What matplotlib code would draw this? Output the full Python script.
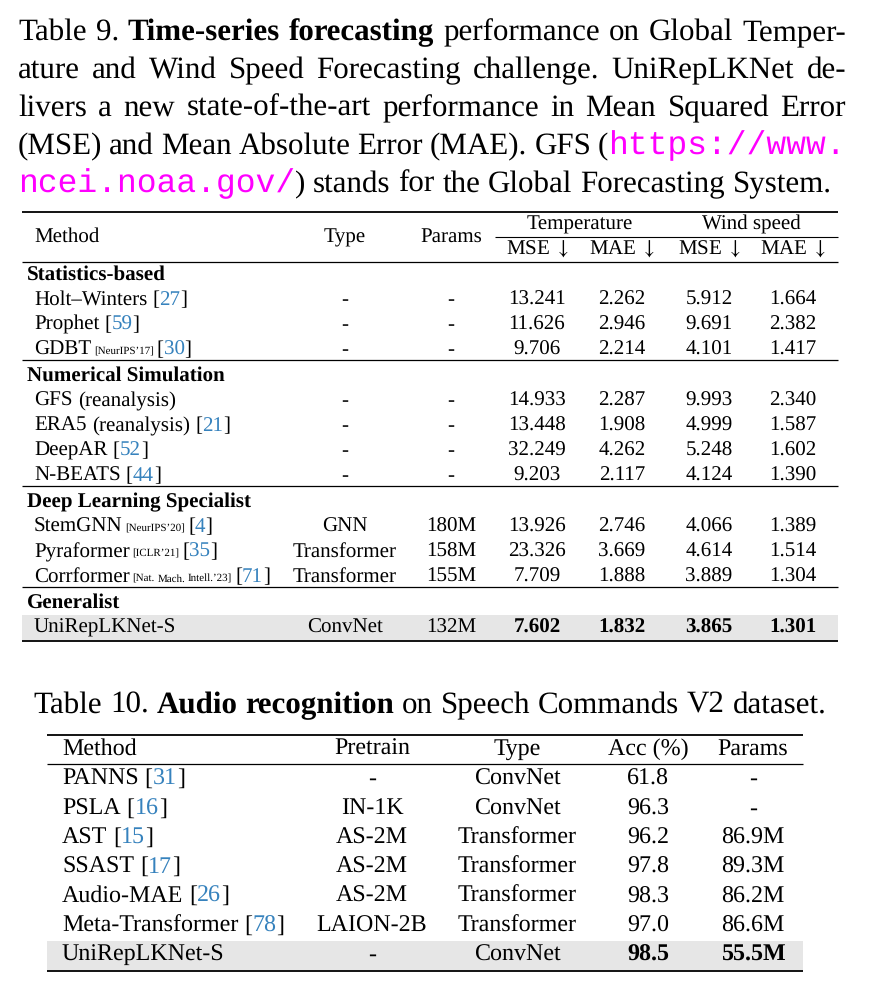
import matplotlib
matplotlib.use("Agg")
from matplotlib import pyplot as plt
from matplotlib.patches import Rectangle

plt.rcParams["mathtext.fontset"] = "stix"
plt.rcParams["text.hinting"] = "no_hinting"
plt.rcParams["text.hinting_factor"] = 1

# ---- data ----
caption9 = [
    [("Table 9. ", "n"), ("Time-series forecasting", "b"), (" performance on Global Temper-", "n")],
    [("ature and Wind Speed Forecasting challenge.  UniRepLKNet de-", "n")],
    [("livers a new state-of-the-art performance in Mean Squared Error", "n")],
    [("(MSE) and Mean Absolute Error (MAE). GFS (", "n"), ("https://www.", "url")],
    [("ncei.noaa.gov/", "url"), (") stands for the Global Forecasting System.", "n")],
]
caption10 = [("Table 10. ", "n"), ("Audio recognition", "b"), (" on Speech Commands V2 dataset.", "n")]

groups9 = ["Statistics-based", "Numerical Simulation", "Deep Learning Specialist", "Generalist"]
group_sizes9 = [3, 4, 3, 1]
methods9 = ["Holt–Winters", "Prophet", "GDBT", "GFS (reanalysis)", "ERA5 (reanalysis)",
            "DeepAR", "N-BEATS", "StemGNN", "Pyraformer", "Corrformer", "UniRepLKNet-S"]
venues9 = ["", "", "[NeurIPS’17]", "", "", "", "", "[NeurIPS’20]", "[ICLR’21]",
           "[Nat. Mach. Intell.’23]", ""]
cites9 = ["27", "59", "30", "", "21", "52", "44", "4", "35", "71", ""]
types9 = ["-", "-", "-", "-", "-", "-", "-", "GNN", "Transformer", "Transformer", "ConvNet"]
params9 = ["-", "-", "-", "-", "-", "-", "-", "180M", "158M", "155M", "132M"]
temp_mse = ["13.241", "11.626", "9.706", "14.933", "13.448", "32.249", "9.203",
            "13.926", "23.326", "7.709", "7.602"]
temp_mae = ["2.262", "2.946", "2.214", "2.287", "1.908", "4.262", "2.117",
            "2.746", "3.669", "1.888", "1.832"]
wind_mse = ["5.912", "9.691", "4.101", "9.993", "4.999", "5.248", "4.124",
            "4.066", "4.614", "3.889", "3.865"]
wind_mae = ["1.664", "2.382", "1.417", "2.340", "1.587", "1.602", "1.390",
            "1.389", "1.514", "1.304", "1.301"]

methods10 = ["PANNS", "PSLA", "AST", "SSAST", "Audio-MAE", "Meta-Transformer", "UniRepLKNet-S"]
cites10 = ["31", "16", "15", "17", "26", "78", ""]
pretrain10 = ["-", "IN-1K", "AS-2M", "AS-2M", "AS-2M", "LAION-2B", "-"]
types10 = ["ConvNet", "ConvNet", "Transformer", "Transformer", "Transformer", "Transformer", "ConvNet"]
acc10 = ["61.8", "96.3", "96.2", "97.8", "98.3", "97.0", "98.5"]
params10 = ["-", "-", "86.9M", "89.3M", "86.2M", "86.6M", "55.5M"]

# ---- styling ----
SERIF = ["Liberation Serif", "DejaVu Serif"]
MONO = ["Liberation Mono", "DejaVu Sans Mono"]
CITE = "#3682BD"
URL = "#FF00FF"
GRAY = "#e6e6e6"
CAP_FS = 22.3
T9_FS = 14.9
T10_FS = 17.2

fig = plt.figure(figsize=(8.7, 9.9), dpi=100)
ax = fig.add_axes([0, 0, 1, 1])
ax.set_xlim(0, 870)
ax.set_ylim(990, 0)
ax.axis("off")
renderer = fig.canvas.get_renderer()


def style(kind, fs):
    if kind == "b":
        return dict(family=SERIF, fontsize=fs, fontweight="bold", color="black")
    if kind == "url":
        return dict(family=MONO, fontsize=fs * 1.05, color=URL)
    if kind == "cite":
        return dict(family=SERIF, fontsize=fs, color=CITE)
    if kind == "small":
        return dict(family=SERIF, fontsize=fs * 0.55, color="black")
    return dict(family=SERIF, fontsize=fs, color="black")


def adv(txt, kind, fs):
    # advance width, measured between two bar glyphs
    kw = style(kind, fs)
    out = []
    for s in ("|" + txt + "|", "||"):
        t = ax.text(0, 0, s, **kw)
        out.append(t.get_window_extent(renderer).width)
        t.remove()
    return out[0] - out[1]


def to_words(pieces):
    words = [[]]
    for txt, kind in pieces:
        parts = txt.split(" ")
        for i, p in enumerate(parts):
            if i > 0:
                words.append([])
            if p:
                words[-1].append((p, kind))
    return [w for w in words if w]


def draw_line(x0, y, pieces, fs, right=None, ha="left"):
    words = to_words(pieces)
    wws = [sum(adv(p, k, fs) for p, k in w) for w in words]
    gaps = [min(adv(" ", words[i][-1][1], fs), adv(" ", words[i + 1][0][1], fs))
            for i in range(len(words) - 1)]
    total = sum(wws)
    if right is not None and len(words) > 1:
        g = (right - x0 - total) / (len(words) - 1)
        gaps = [g] * len(gaps)
    full = total + sum(gaps)
    x = x0 - full / 2 if ha == "center" else x0
    for i, w in enumerate(words):
        for p, k in w:
            ax.text(x, y, p, va="baseline", ha="left", **style(k, fs))
            x += adv(p, k, fs)
        if i < len(gaps):
            x += gaps[i]


def rule(x0, x1, y, lw):
    ax.plot([x0, x1], [y, y], color="black", lw=lw, solid_capstyle="butt")


def cell(x, y, txt, fs, bold=False):
    ax.text(x, y, txt, ha="center", va="baseline", family=SERIF, fontsize=fs,
            fontweight="bold" if bold else "normal")


# ---- caption of table 9 ----
cap_base = [40, 78, 116, 154, 192]
for i, line in enumerate(caption9):
    right = 846 if i < len(caption9) - 1 else None
    draw_line(18, cap_base[i], line, CAP_FS, right=right)

# ---- table 9 ----
L9, R9 = 22, 838
col_type, col_par = 345, 451
col_num = [537, 622, 709, 793]
rule(L9, R9, 212, 1.3)
ax.text(34, 242, "Method", va="baseline", family=SERIF, fontsize=T9_FS)
cell(col_type, 242, "Type", T9_FS)
cell(col_par, 242, "Params", T9_FS)
cell((col_num[0] + col_num[1]) / 2, 230, "Temperature", T9_FS)
cell((col_num[2] + col_num[3]) / 2, 230, "Wind speed", T9_FS)
rule(495, R9, 237, 0.8)
for c, h in zip(col_num, ["MSE", "MAE", "MSE", "MAE"]):
    cell(c, 255, h + r" $\downarrow$", T9_FS)
rule(L9, R9, 262, 0.9)

y = 280
r = 0
for g, (gname, gsize) in enumerate(zip(groups9, group_sizes9)):
    if g > 0:
        rule(L9, R9, y - 21, 0.9)
    ax.text(27, y, gname, va="baseline", family=SERIF, fontsize=T9_FS, fontweight="bold")
    for k in range(gsize):
        y += 25
        last = r == len(methods9) - 1
        if last:
            ax.add_patch(Rectangle((L9, y - 18), R9 - L9, 25, color=GRAY, lw=0, zorder=0))
        pieces = [(methods9[r], "n")]
        if venues9[r]:
            pieces.append((" " + venues9[r], "small"))
        if cites9[r]:
            pieces += [(" [", "n"), (cites9[r], "cite"), ("]", "n")]
        draw_line(34, y, pieces, T9_FS)
        cell(col_type, y, types9[r], T9_FS)
        cell(col_par, y, params9[r], T9_FS)
        for c, v in zip(col_num, [temp_mse[r], temp_mae[r], wind_mse[r], wind_mae[r]]):
            cell(c, y, v, T9_FS, bold=last)
        r += 1
    y += 26
rule(L9, R9, 640.5, 1.3)

# ---- table 10 ----
draw_line(430, 713, caption10, CAP_FS, ha="center")
L10, R10 = 47, 803
cols10 = [372, 517, 648, 753]
rule(L10, R10, 735, 1.3)
ax.text(62, 755, "Method", va="baseline", family=SERIF, fontsize=T10_FS)
for c, h in zip(cols10, ["Pretrain", "Type", "Acc (%)", "Params"]):
    cell(c, 755, h, T10_FS)
rule(L10, R10, 764, 0.9)
for i in range(len(methods10)):
    y = 785 + i * 29.3
    last = i == len(methods10) - 1
    if last:
        ax.add_patch(Rectangle((L10, y - 20), R10 - L10, 29.5, color=GRAY, lw=0, zorder=0))
    pieces = [(methods10[i], "n")]
    if cites10[i]:
        pieces += [(" [", "n"), (cites10[i], "cite"), ("]", "n")]
    draw_line(62, y, pieces, T10_FS)
    cell(cols10[0], y, pretrain10[i], T10_FS)
    cell(cols10[1], y, types10[i], T10_FS)
    cell(cols10[2], y, acc10[i], T10_FS, bold=last)
    cell(cols10[3], y, params10[i], T10_FS, bold=last)
rule(L10, R10, 971, 1.3)

fig.savefig("out.png", dpi=100, facecolor="white")
